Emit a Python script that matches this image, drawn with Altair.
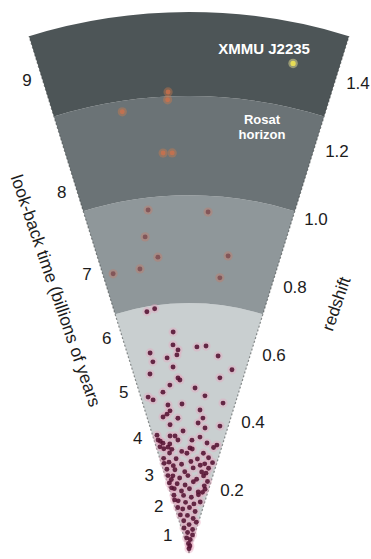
import math
import altair as alt
import pandas as pd

# ---- geometry of the fan (radial axis = redshift, apex = here and now) ----
W, H = 371, 559
APEX_X, APEX_Y = 189, 553      # pixel position of the apex inside the view
PX_PER_Z = 355.0               # radial pixels per unit of redshift
HALF_ANGLE = 17.2              # half opening angle of the fan, degrees
Z_OUTER = 1.524

# ---- shells of the fan ----
band_inner = [0.0, 0.704, 1.008, 1.287]
band_outer = [0.704, 1.008, 1.287, Z_OUTER]
band_color = ["#c9cfd0", "#8f979a", "#6b7376", "#4d5557"]

# ---- axis labels ----
lookback_gyr = ["1", "2", "3", "4", "5", "6", "7", "8", "9"]
lookback_z = [0.06, 0.145, 0.235, 0.345, 0.48, 0.64, 0.83, 1.07, 1.40]
redshift_ticks = [0.2, 0.4, 0.6, 0.8, 1.0, 1.2, 1.4]
redshift_text = ["0.2", "0.4", "0.6", "0.8", "1.0", "1.2", "1.4"]

# ---- galaxy clusters: redshift and angle across the fan (degrees) ----
cluster_z = [
    # distant, faint
    1.300, 1.278, 1.257, 1.129, 1.128,
    # intermediate shell
    0.973, 0.962, 0.899, 0.838, 0.844, 0.812, 0.815, 0.780,
    # nearby shell
    0.690, 0.695,
    0.624, 0.588, 0.573, 0.559, 0.581, 0.585, 0.574, 0.548, 0.553, 0.526,
    0.561, 0.530, 0.516, 0.494, 0.501, 0.488, 0.476, 0.465, 0.459, 0.454,
    0.443, 0.445, 0.421, 0.420, 0.433, 0.404, 0.404, 0.396, 0.390, 0.381,
    0.382, 0.367, 0.355, 0.368, 0.365, 0.344, 0.344, 0.334, 0.332, 0.310,
    0.304, 0.314, 0.314, 0.296,
    0.330, 0.318, 0.320, 0.318, 0.328, 0.312, 0.325,
    0.302, 0.296, 0.287, 0.293, 0.284, 0.305,
    0.276, 0.268, 0.281, 0.266, 0.274,
    0.262, 0.251, 0.258, 0.249, 0.263,
    0.244, 0.238, 0.229, 0.240, 0.231, 0.245,
    0.222, 0.213, 0.218, 0.209, 0.221,
    0.205, 0.198, 0.192, 0.201, 0.194,
    0.186, 0.176, 0.181, 0.174, 0.185,
    0.168, 0.163, 0.157, 0.166,
    0.150, 0.143, 0.139, 0.147, 0.132, 0.128,
    0.125, 0.118, 0.110, 0.106, 0.098, 0.092, 0.089, 0.080, 0.072, 0.067,
    0.058, 0.052, 0.043, 0.038, 0.027, 0.020, 0.012,
    0.262, 0.226, 0.190, 0.155, 0.213, 0.250, 0.287,
    0.208, 0.230, 0.255, 0.175,
]
cluster_angle = [
    -2.6, -2.7, -8.6, -3.7, -2.4,
    -6.8, 3.2, -7.9, -6.0, 7.5, -9.8, -15.2, 6.4,
    -9.9, -8.0,
    -4.1, -4.4, -3.1, -3.5, 2.2, 4.7, -11.0, -10.7, -6.4, -4.9,
    8.4, 13.2, -12.3, -3.6, 10.0, -3.0, -6.5, 2.1, -9.2, -14.7,
    -13.2, 5.8, -8.1, -2.7, 12.8, 4.4, -7.6, -9.0, -10.8, -4.7,
    5.9, 4.0, 7.3, 13.7, -8.4, -2.8, -15.2, -9.2, -6.8, -15.3,
    -11.2, 9.3, 14.5, 0.5,
    -15.3, -13.3, -5.6, 1.5, 5.4, -10.0, -14.4,
    -13.6, -9.4, -4.1, 1.8, 8.2, 13.1,
    -15.0, -7.8, -1.2, 5.1, 11.6,
    -12.4, -4.8, 1.2, 7.3, 14.6,
    -14.8, -9.6, -3.0, 2.8, 8.9, 13.0,
    -11.8, -7.1, -0.8, 5.9, 10.7,
    -15.6, -9.7, -3.3, 3.5, 12.8,
    -12.9, -6.9, 0.4, 8.6, 14.1,
    -14.6, -5.4, 2.4, 9.2,
    -11.7, -3.9, 5.7, 12.4, -13.9, 0.6,
    -8.1, 8.4, -12.8, -2.4, 6.9, -9.3, 13.3, 0.2, -11.2, 8.7,
    -4.0, 11.0, -9.0, 5.0, -3.0, 7.0, 0.0,
    -15.5, -15.2, -15.0, -15.2, -13.5, -10.2, -11.0,
    14.5, 12.0, 10.0, 12.5,
]

# the most distant cluster
xmmu_z = [1.41]
xmmu_angle = [12.0]
xmmu_name = ["XMMU J2235"]

# ---- shared scales: one redshift unit has the same pixel length on x, y and radius ----
x_dom = [-APEX_X / PX_PER_Z, (W - APEX_X) / PX_PER_Z]
y_dom = [-(H - APEX_Y) / PX_PER_Z, APEX_Y / PX_PER_Z]
xsc = alt.Scale(domain=x_dom, nice=False, zero=False)
ysc = alt.Scale(domain=y_dom, nice=False, zero=False)
rsc = alt.Scale(type="linear", domain=[0, y_dom[1]], range=[0, APEX_Y], nice=False, zero=True)
tsc = alt.Scale(domain=[-180, 180], range=[-math.pi, math.pi])

FONT = "Liberation Sans"
POLAR_X = "datum.z * sin(datum.ang * PI / 180)"
POLAR_Y = "datum.z * cos(datum.ang * PI / 180)"


def polar_chart(df):
    return alt.Chart(df).transform_calculate(px=POLAR_X, py=POLAR_Y)


def xy():
    return dict(
        x=alt.X("px:Q", scale=xsc, axis=None),
        y=alt.Y("py:Q", scale=ysc, axis=None),
    )


# shells
bands_df = pd.DataFrame({
    "inner": band_inner, "outer": band_outer, "color": band_color,
    "cx": 0.0, "cy": 0.0, "a0": -HALF_ANGLE, "a1": HALF_ANGLE,
})
bands = alt.Chart(bands_df).mark_arc(strokeWidth=0).encode(
    x=alt.X("cx:Q", scale=xsc, axis=None),
    y=alt.Y("cy:Q", scale=ysc, axis=None),
    theta=alt.Theta("a0:Q", scale=tsc, stack=None),
    theta2="a1:Q",
    radius=alt.Radius("outer:Q", scale=rsc),
    radius2="inner:Q",
    color=alt.Color("color:N", scale=None, legend=None),
)

# dotted side edges of the fan
edges_df = pd.DataFrame({"ang": [-HALF_ANGLE, HALF_ANGLE], "z": [Z_OUTER, Z_OUTER], "x0": 0.0, "y0": 0.0})
edges = polar_chart(edges_df).mark_rule(
    color="#3a3f40", strokeWidth=1.2, strokeDash=[2, 2], opacity=0.55
).encode(
    x=alt.X("x0:Q", scale=xsc, axis=None),
    y=alt.Y("y0:Q", scale=ysc, axis=None),
    x2="px:Q", y2="py:Q",
)

# clusters: soft glow underneath, solid core on top
pts_df = pd.DataFrame({"z": cluster_z, "ang": cluster_angle})
pts = polar_chart(pts_df).transform_calculate(
    grp="datum.z < 0.7 ? 'near' : (datum.z < 1.0 ? 'mid' : 'far')"
)
grp_dom = ["near", "mid", "far"]
halo = pts.mark_circle(size=85).encode(
    **xy(),
    color=alt.Color("grp:N", scale=alt.Scale(domain=grp_dom, range=["#e8a6bf", "#c77a66", "#d27a4c"]), legend=None),
    opacity=alt.Opacity("grp:N", scale=alt.Scale(domain=grp_dom, range=[0.4, 0.4, 0.2]), legend=None),
)
core = pts.mark_circle(size=24).encode(
    **xy(),
    color=alt.Color("grp:N", scale=alt.Scale(domain=grp_dom, range=["#541232", "#7a4a50", "#d0704a"]), legend=None),
    opacity=alt.Opacity("grp:N", scale=alt.Scale(domain=grp_dom, range=[0.88, 0.75, 0.45]), legend=None),
)

# XMMU J2235
xmmu_df = pd.DataFrame({"z": xmmu_z, "ang": xmmu_angle, "name": xmmu_name})
xmmu = polar_chart(xmmu_df)
xmmu_glow = xmmu.mark_circle(size=90, color="#f4ee9a", opacity=0.45).encode(**xy())
xmmu_dot = xmmu.mark_circle(size=28, color="#e6dc55", opacity=1).encode(**xy())
xmmu_label = xmmu.mark_text(
    font=FONT, fontSize=15, fontWeight="bold", color="white", dx=-29, dy=-14,
    align="center", baseline="middle",
).encode(**xy(), text="name:N")

# Rosat horizon note
rosat_df = pd.DataFrame({"z": [1.238], "ang": [9.56], "t": [["Rosat", "horizon"]]})
rosat = polar_chart(rosat_df).mark_text(
    font=FONT, fontSize=13, fontWeight="bold", color="white",
    align="center", baseline="middle", lineHeight=15,
).encode(**xy(), text="t")

# look-back time labels on the left edge
lb_df = pd.DataFrame({"z": lookback_z, "ang": -HALF_ANGLE, "t": lookback_gyr})
lb = polar_chart(lb_df).mark_text(
    font=FONT, fontSize=17, color="#1c1c1c", dx=-15, dy=3, align="center", baseline="middle"
).encode(**xy(), text="t:N")

# redshift labels on the right edge
rz_df = pd.DataFrame({"z": redshift_ticks, "ang": HALF_ANGLE, "t": redshift_text})
rz = polar_chart(rz_df).mark_text(
    font=FONT, fontSize=17, color="#1c1c1c", dx=22, dy=6, align="center", baseline="middle"
).encode(**xy(), text="t:N")

# axis titles running along the edges
lb_title = polar_chart(pd.DataFrame({"z": [0.829], "ang": [-27.1], "t": ["look-back time (billions of years"]})).mark_text(
    font=FONT, fontSize=17.5, color="#1c1c1c", angle=71, align="center", baseline="middle"
).encode(**xy(), text="t:N")
rz_title = polar_chart(pd.DataFrame({"z": [0.816], "ang": [30.7], "t": ["redshift"]})).mark_text(
    font=FONT, fontSize=17, color="#1c1c1c", angle=289, align="center", baseline="middle"
).encode(**xy(), text="t:N")

chart = alt.layer(
    bands, edges, halo, core, xmmu_glow, xmmu_dot, xmmu_label, rosat,
    lb, rz, lb_title, rz_title,
).resolve_scale(color="independent", opacity="independent").properties(
    width=W, height=H, padding=0, autosize="none", background="white"
).configure_view(stroke=None)

chart.save("out.html", embed_options={"renderer": "svg", "actions": False})
